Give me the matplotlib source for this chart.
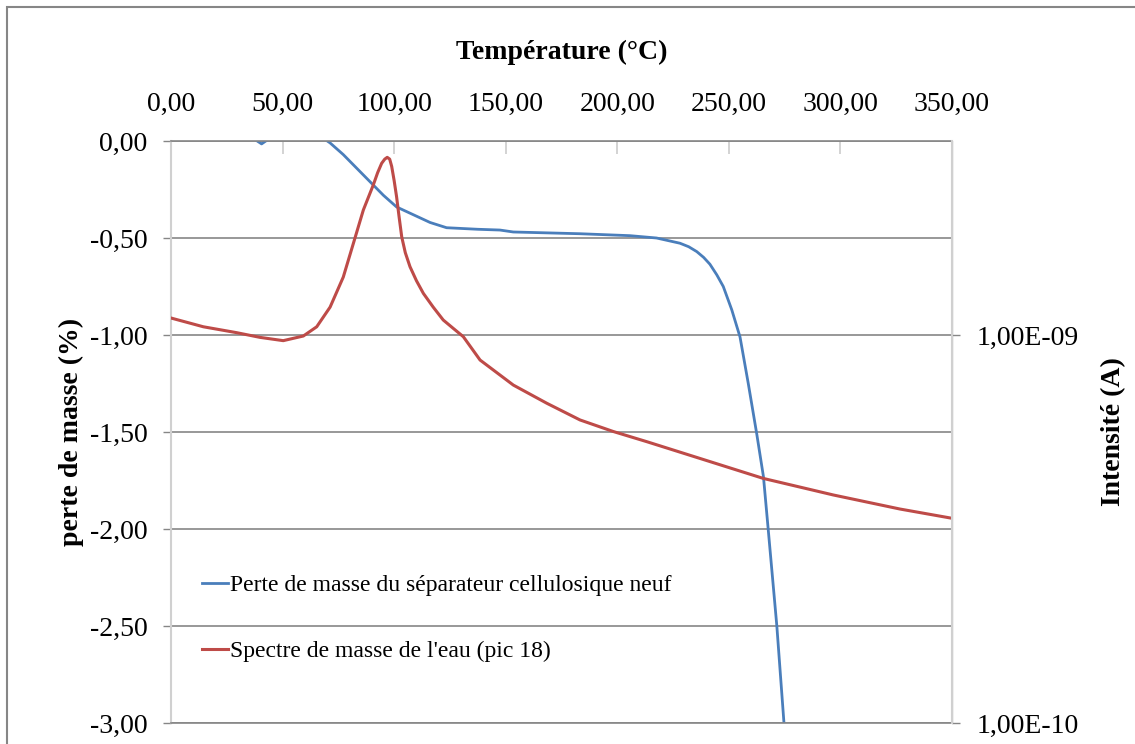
import numpy as np
import matplotlib
matplotlib.use('Agg')
import matplotlib.pyplot as plt
from matplotlib.patches import Rectangle
from matplotlib.ticker import FixedLocator, FuncFormatter, NullLocator

# perte de masse (%) du séparateur cellulosique neuf
temp_masse = [0, 20, 36, 40.6, 45, 55, 65, 71.3, 77.2, 83.2, 89.2, 95.2, 101.1,
              108.6, 116.1, 123.5, 137.4, 147.4, 153.4, 183.3, 205.7, 217.6,
              228.1, 232.0, 235.6, 238.7, 241.5, 244.6, 247.5, 251.3, 255.0,
              258.7, 262.5, 265.5, 267.7, 271.5, 274.7, 276.0]
perte_masse = [0.25, 0.12, 0.02, -0.015, 0.02, 0.06, 0.04, -0.01, -0.07, -0.14,
               -0.21, -0.28, -0.34, -0.38, -0.42, -0.447, -0.455, -0.459, -0.469,
               -0.478, -0.488, -0.50, -0.527, -0.545, -0.57, -0.60, -0.635,
               -0.69, -0.75, -0.87, -1.01, -1.25, -1.51, -1.73, -2.01, -2.50,
               -3.00, -3.15]

# spectre de masse de l'eau, pic 18 (A)
temp_eau = [0, 14.5, 29.4, 39.9, 50.3, 59.3, 65.3, 71.3, 77.2, 81.7, 86.2, 90.7,
            92.6, 94.4, 95.8, 96.9, 98.0, 98.9, 100.0, 101.1, 102.2, 103.4,
            105.0, 107.1, 110.0, 113.1, 117.5, 122.0, 126.5, 131.0, 138.5,
            153.4, 168.4, 183.3, 198.2, 213.2, 236.9, 265.4, 296.8, 326.7, 350.0]
intensite = [1.106e-9, 1.05e-9, 1.014e-9, 0.986e-9, 0.967e-9, 0.994e-9, 1.05e-9,
             1.18e-9, 1.41e-9, 1.72e-9, 2.10e-9, 2.44e-9,
             2.62e-9, 2.77e-9, 2.84e-9, 2.87e-9, 2.84e-9, 2.72e-9, 2.50e-9,
             2.27e-9, 2.02e-9, 1.79e-9,
             1.63e-9, 1.50e-9, 1.38e-9, 1.28e-9, 1.18e-9, 1.093e-9, 1.04e-9,
             0.990e-9, 0.862e-9,
             0.743e-9, 0.667e-9, 0.604e-9, 0.564e-9, 0.531e-9,
             0.481e-9, 0.427e-9, 0.387e-9, 0.356e-9, 0.337e-9]

x_ticks = [0, 50, 100, 150, 200, 250, 300, 350]
y_ticks = [0, -0.5, -1, -1.5, -2, -2.5, -3]
y2_ticks = [1e-10, 1e-9]

plt.rcParams['font.family'] = ['Liberation Serif', 'DejaVu Serif']
bleu = '#4a7ebb'
rouge = '#be4b48'
gris = '#868686'
gris_clair = '#d0d0d0'
fs = 20

fig = plt.figure(figsize=(11.35, 7.44), dpi=100)
ax = fig.add_axes([171 / 1135, 1 - 723 / 744, (952 - 171) / 1135, (723 - 141) / 744])

# cadre du graphique
fig.patches.append(Rectangle((7 / 1135, -0.1), 1.2, 1 - 7 / 744 + 0.1,
                             transform=fig.transFigure, fill=False,
                             edgecolor=gris, linewidth=1.5))

ax.plot(temp_masse, perte_masse, color=bleu, linewidth=2.0,
        label='Perte de masse du séparateur cellulosique neuf')
ax.set_xlim(0, 350)
ax.set_ylim(-3, 0)
ax.set_xticks(x_ticks)
ax.set_yticks(y_ticks)
fmt = FuncFormatter(lambda v, p: f'{v:.2f}'.replace('.', ','))
ax.xaxis.set_major_formatter(fmt)
ax.yaxis.set_major_formatter(fmt)
ax.xaxis.tick_top()
ax.xaxis.set_label_position('top')
ax.tick_params(axis='x', direction='in', length=9, width=1.3, color=gris_clair,
               labelsize=fs, pad=17)
ax.tick_params(axis='y', direction='out', length=6, width=1, color=gris,
               labelsize=fs, pad=11)
ax.grid(axis='y', color=gris, linewidth=1.2)
ax.set_axisbelow(True)
ax.spines['top'].set_color(gris)
ax.spines['top'].set_linewidth(1.2)
ax.spines['bottom'].set_color(gris)
ax.spines['bottom'].set_linewidth(1.2)
ax.spines['left'].set_color(gris_clair)
ax.spines['left'].set_linewidth(1.5)
ax.set_xlabel('Température (°C)', fontsize=fs, fontweight='bold', labelpad=24)
ax.set_ylabel('perte de masse (%)', fontsize=fs, fontweight='bold', labelpad=4)

ax2 = ax.twinx()
ax2.plot(temp_eau, intensite, color=rouge, linewidth=2.2,
         label="Spectre de masse de l'eau (pic 18)")
ax2.set_yscale('log')
ax2.set_ylim(1e-10, 10 ** -8.5)
ax2.yaxis.set_major_locator(FixedLocator(y2_ticks))
ax2.yaxis.set_minor_locator(NullLocator())
ax2.yaxis.set_major_formatter(FuncFormatter(
    lambda v, p: f'{v:.2E}'.replace('.', ',')))
ax2.tick_params(axis='y', direction='out', length=6, width=1, color=gris,
                labelsize=fs, pad=12)
for side in ['top', 'bottom', 'left']:
    ax2.spines[side].set_visible(False)
ax2.spines['right'].set_color(gris_clair)
ax2.spines['right'].set_linewidth(1.5)
ax2.set_ylabel('Intensité (A)', fontsize=fs, fontweight='bold', labelpad=16)

h1, l1 = ax.get_legend_handles_labels()
h2, l2 = ax2.get_legend_handles_labels()
ax2.legend(h1 + h2, l1 + l2, loc='upper left', bbox_to_anchor=(0.0277, 0.2714),
           frameon=False, fontsize=17, handlelength=1.1, handletextpad=0.08,
           labelspacing=1.9, borderaxespad=0)

fig.savefig('out.png', dpi=100)
